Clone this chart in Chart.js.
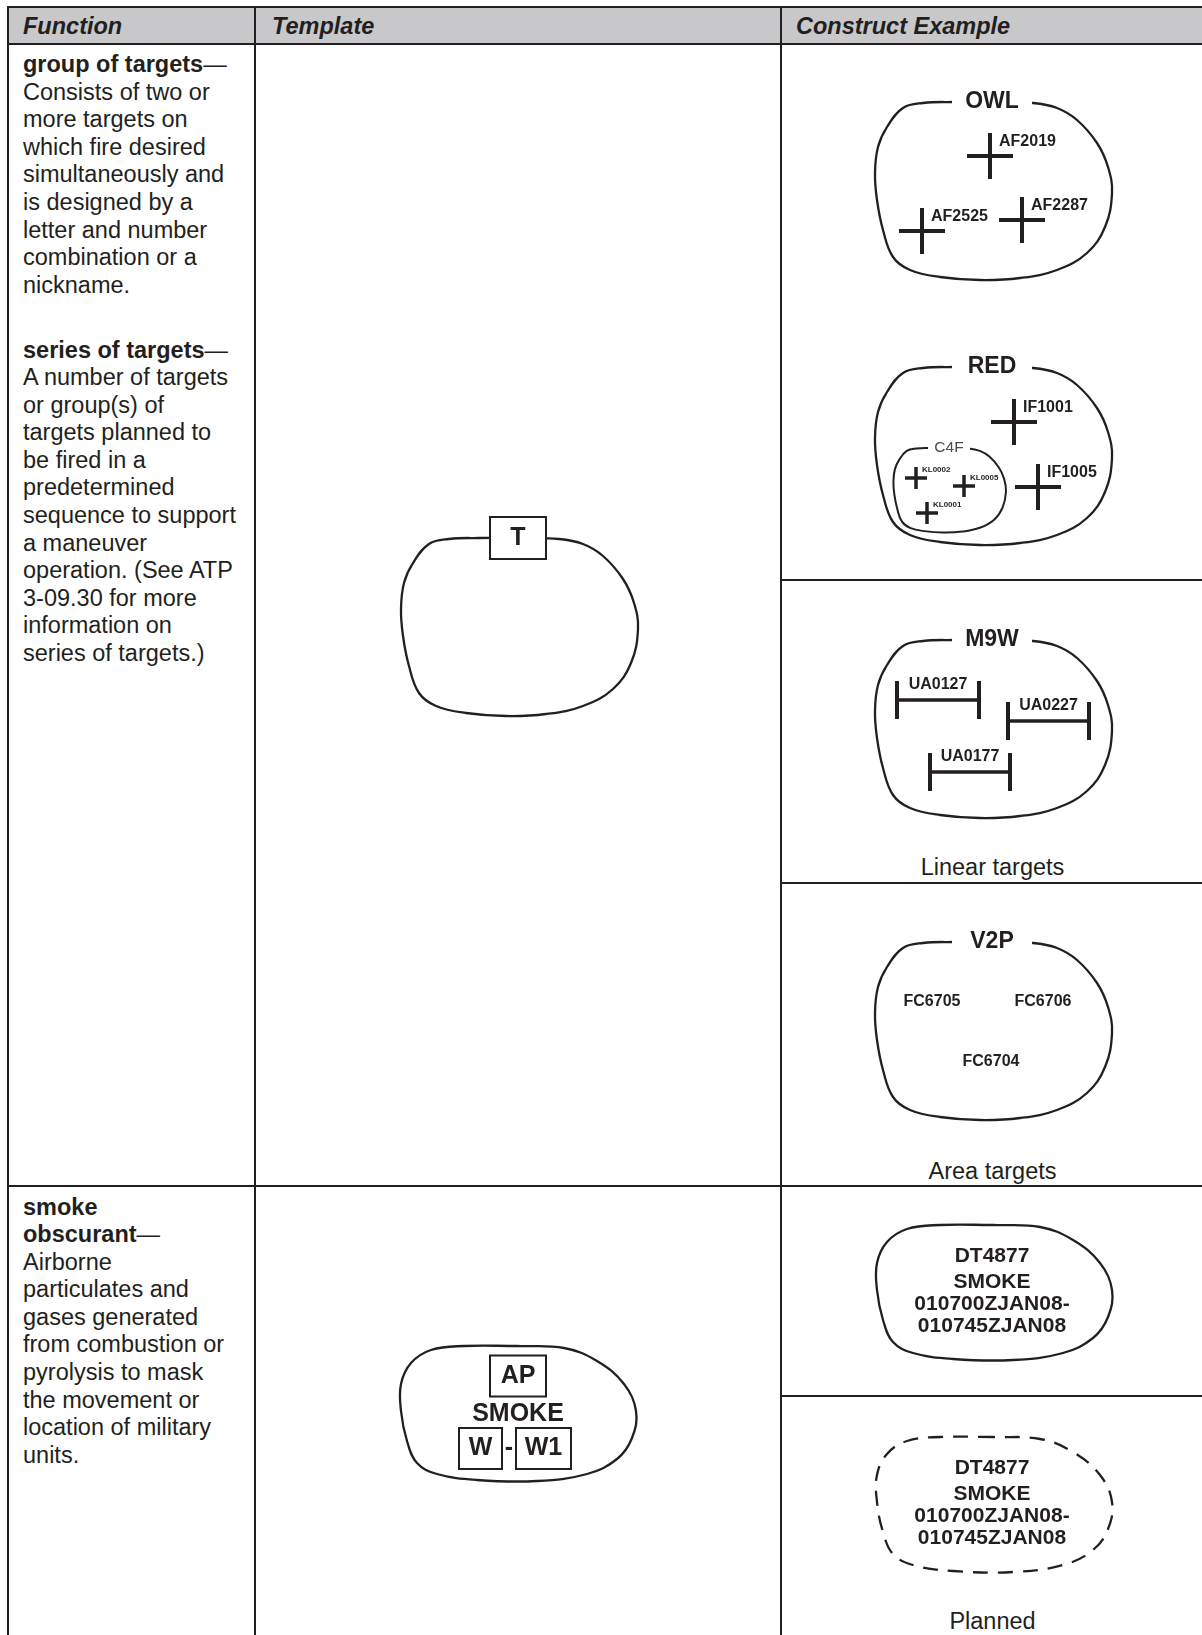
<!DOCTYPE html>
<html lang="en">
<head>
<meta charset="UTF-8">
<title>Group of targets, series of targets, smoke obscurant</title>
<script src="https://cdn.jsdelivr.net/npm/chart.js"></script>
<style>
  body {
    margin: 0;
    width: 1202px;
    height: 1635px;
    overflow: hidden;
    position: relative;
    background: #fff;
    color: #231f20;
    font-family: 'Liberation Sans', Arial, sans-serif;
  }
  .hl, .vl { position: absolute; background: #231f20; }
  .hl { height: 2px; }
  .vl { width: 2px; top: 6px; height: 1629px; }
  .head { position: absolute; left: 9px; top: 8px; width: 1193px; height: 35px; background: #c8c8ca; }
  .th { position: absolute; top: 8px; line-height: 36px; font-size: 23.5px; font-weight: bold; font-style: italic; }
  .txt { position: absolute; left: 23px; font-size: 23.5px; line-height: 27.6px; white-space: nowrap; }
  .cap { position: absolute; left: 781px; width: 423px; text-align: center; font-size: 23.5px; line-height: 27.6px; }
  #draw { position: absolute; left: 0; top: 0; z-index: 2; }
</style>
</head>
<body>
  <div class="head"></div>
  <div class="th" style="left:23px">Function</div>
  <div class="th" style="left:272px">Template</div>
  <div class="th" style="left:796px">Construct Example</div>

  <div class="hl" style="left:7px; width:1195px; top:6px"></div>
  <div class="hl" style="left:7px; width:1195px; top:43px"></div>
  <div class="hl" style="left:7px; width:1195px; top:1185px"></div>
  <div class="hl" style="left:780px; width:422px; top:579px"></div>
  <div class="hl" style="left:780px; width:422px; top:882px"></div>
  <div class="hl" style="left:780px; width:422px; top:1395px"></div>
  <div class="vl" style="left:7px"></div>
  <div class="vl" style="left:254px"></div>
  <div class="vl" style="left:780px"></div>

  <div class="txt" style="top:51px"><b>group of targets</b>—<br>Consists of two or<br>more targets on<br>which fire desired<br>simultaneously and<br>is designed by a<br>letter and number<br>combination or a<br>nickname.</div>
  <div class="txt" style="top:336.5px"><b>series of targets</b>—<br>A number of targets<br>or group(s) of<br>targets planned to<br>be fired in a<br>predetermined<br>sequence to support<br>a maneuver<br>operation. (See ATP<br>3-09.30 for more<br>information on<br>series of targets.)</div>
  <div class="txt" style="top:1193.5px"><b>smoke</b><br><b>obscurant</b>—<br>Airborne<br>particulates and<br>gases generated<br>from combustion or<br>pyrolysis to mask<br>the movement or<br>location of military<br>units.</div>

  <div class="cap" style="top:854px">Linear targets</div>
  <div class="cap" style="top:1158px">Area targets</div>
  <div class="cap" style="top:1608px">Planned</div>

  <canvas id="draw" width="1202" height="1635" style="width:1202px;height:1635px"></canvas>

<script>
  const ink = '#231f20';

  // group outline, as offsets from the spot on the top edge where the name sits
  const groupOutlineX = [0, -39, -69, -89, -105, -114, -117, -115, -109, -99, -82, -52, -12, 28, 65, 95, 113, 120, 116, 105, 85, 65, 41, 0];
  const groupOutlineY = [0, 0, 1, 6, 25, 45, 71, 98, 128, 155, 168, 175, 178, 176, 168, 151, 125, 91, 65, 41, 18, 6, 1, 0];
  // smoke outline, offsets from the middle of its top edge
  const smokeOutlineX = [0, -53, -86, -106, -116, -116, -110, -100, -80, -40, 20, 70, 100, 115, 119, 107, 80, 47, 0];
  const smokeOutlineY = [0, 0, 4, 17, 38, 65, 95, 117, 128, 134, 135, 128, 113, 92, 65, 38, 15, 2, 0];

  const groupNames = ['OWL', 'RED', 'M9W', 'V2P'];
  const groupX = [992, 992, 992, 992];
  const groupY = [102, 367, 640, 942];

  const subGroupNames = ['C4F'];
  const subGroupX = [949];
  const subGroupY = [448];

  const pointTargets = ['AF2019', 'AF2525', 'AF2287', 'IF1001', 'IF1005'];
  const pointTargetX = [990, 922, 1022, 1014, 1038];
  const pointTargetY = [156, 231, 220, 422, 487];

  const subTargets = ['KL0002', 'KL0005', 'KL0001'];
  const subTargetX = [916, 964, 927];
  const subTargetY = [478, 486, 513];

  const linearTargets = ['UA0127', 'UA0227', 'UA0177'];
  const linearStartX = [897, 1008, 930];
  const linearEndX = [979, 1089, 1010];
  const linearY = [700, 721, 772];

  const areaTargets = ['FC6705', 'FC6706', 'FC6704'];
  const areaX = [932, 1043, 991];
  const areaY = [1002, 1002, 1062];

  const templateTexts = ['T', 'AP', 'SMOKE', 'W', '-', 'W1'];
  const templateTextX = [518, 518, 518, 480.5, 509, 543.5];
  const templateTextY = [538, 1376, 1414, 1448.5, 1448.5, 1448.5];

  const smokeLines = ['DT4877', 'SMOKE', '010700ZJAN08-', '010745ZJAN08'];
  const smokeLineY = [31, 57, 79, 101];   // below the top of the outline
  const smokeExampleX = [993, 993];       // current, planned
  const smokeExampleY = [1225, 1437];

  const templateGroupX = 518, templateGroupY = 538;
  const templateSmokeX = 517, templateSmokeY = 1346;

  const boxSizes = { T: [56, 42], AP: [56, 41], W: [43, 41], W1: [55, 41] };

  function outline(xs, ys, ax, ay, s) {
    return xs.map((dx, i) => ({ x: ax + dx * s, y: ay + ys[i] * s }));
  }
  function points(xs, ys) {
    return xs.map((x, i) => ({ x: x, y: ys[i] }));
  }

  const lineStyle = { showLine: true, tension: 0.4, borderColor: ink, borderWidth: 2.3, pointRadius: 0, fill: false };
  const datasets = [];

  groupNames.forEach((name, i) => {
    datasets.push(Object.assign({
      data: outline(groupOutlineX, groupOutlineY, groupX[i], groupY[i], 1),
      text: [name],
      textStyle: { font: 'bold 23px "Liberation Sans", Arial', gap: 40 }
    }, lineStyle));
  });
  subGroupNames.forEach((name, i) => {
    datasets.push(Object.assign({
      data: outline(groupOutlineX, groupOutlineY, subGroupX[i], subGroupY[i], 0.475),
      text: [name],
      textStyle: { font: '15.5px "Liberation Sans", Arial', color: '#4a4a4a', gap: 21 }
    }, lineStyle, { borderWidth: 2 }));
  });

  datasets.push(Object.assign({ data: outline(groupOutlineX, groupOutlineY, templateGroupX, templateGroupY, 1) }, lineStyle));
  datasets.push(Object.assign({ data: outline(smokeOutlineX, smokeOutlineY, templateSmokeX, templateSmokeY, 1) }, lineStyle));
  datasets.push(Object.assign({ data: outline(smokeOutlineX, smokeOutlineY, smokeExampleX[0], smokeExampleY[0], 1) }, lineStyle));
  datasets.push(Object.assign({ data: outline(smokeOutlineX, smokeOutlineY, smokeExampleX[1], smokeExampleY[1], 1) }, lineStyle, { borderDash: [15, 10] }));

  datasets.push({
    data: points(pointTargetX, pointTargetY),
    pointStyle: 'cross', pointRadius: 23, pointBorderWidth: 4, pointBorderColor: ink,
    text: pointTargets,
    textStyle: { font: 'bold 16px "Liberation Sans", Arial', align: 'left', dx: 9, dy: -14 }
  });
  datasets.push({
    data: points(subTargetX, subTargetY),
    pointStyle: 'cross', pointRadius: 11, pointBorderWidth: 3.5, pointBorderColor: ink,
    text: subTargets,
    textStyle: { font: 'bold 8px "Liberation Sans", Arial', align: 'left', dx: 6, dy: -8 }
  });

  linearTargets.forEach((name, i) => {
    datasets.push({
      data: [{ x: linearStartX[i], y: linearY[i] }, { x: linearEndX[i], y: linearY[i] }],
      showLine: true, borderColor: ink, borderWidth: 3.5,
      pointStyle: 'line', pointRotation: 90, pointRadius: 19, pointBorderWidth: 4, pointBorderColor: ink
    });
  });
  datasets.push({
    data: linearTargets.map((n, i) => ({ x: (linearStartX[i] + linearEndX[i]) / 2, y: linearY[i] })),
    pointRadius: 0,
    text: linearTargets,
    textStyle: { font: 'bold 16px "Liberation Sans", Arial', dy: -15 }
  });

  datasets.push({
    data: points(areaX, areaY), pointRadius: 0,
    text: areaTargets,
    textStyle: { font: 'bold 16px "Liberation Sans", Arial' }
  });

  datasets.push({
    data: points(templateTextX, templateTextY), pointRadius: 0,
    text: templateTexts,
    textStyle: { font: 'bold 25px "Liberation Sans", Arial', boxes: boxSizes }
  });

  smokeExampleX.forEach((sx, k) => {
    datasets.push({
      data: smokeLineY.map(dy => ({ x: sx - 1, y: smokeExampleY[k] + dy })), pointRadius: 0,
      text: smokeLines,
      textStyle: { font: 'bold 21px "Liberation Sans", Arial' }
    });
  });

  const symbolText = {
    id: 'symbolText',
    afterDatasetsDraw(chart) {
      const ctx = chart.ctx;
      chart.data.datasets.forEach((ds, di) => {
        if (!ds.text) return;
        const st = ds.textStyle;
        chart.getDatasetMeta(di).data.forEach((pt, i) => {
          const t = ds.text[i];
          if (!t) return;
          const x = pt.x + (st.dx || 0);
          const y = pt.y + (st.dy || 0);
          ctx.save();
          if (st.gap) {
            ctx.fillStyle = '#fff';
            ctx.fillRect(x - st.gap, y - 7, st.gap * 2, 14);
          }
          const box = st.boxes && st.boxes[t];
          if (box) {
            ctx.fillStyle = '#fff';
            ctx.strokeStyle = ink;
            ctx.lineWidth = 2;
            ctx.fillRect(x - box[0] / 2, y - box[1] / 2, box[0], box[1]);
            ctx.strokeRect(x - box[0] / 2, y - box[1] / 2, box[0], box[1]);
          }
          ctx.font = st.font;
          ctx.textAlign = st.align || 'center';
          ctx.textBaseline = 'middle';
          ctx.fillStyle = st.color || ink;
          ctx.fillText(t, x, y);
          ctx.restore();
        });
      });
    }
  };

  new Chart(document.getElementById('draw'), {
    type: 'scatter',
    data: { datasets: datasets },
    options: {
      responsive: false,
      devicePixelRatio: 1,
      animation: false,
      events: [],
      layout: { padding: 0, autoPadding: false },
      scales: {
        x: { type: 'linear', min: 0, max: 1202, display: false },
        y: { type: 'linear', min: 0, max: 1635, reverse: true, display: false }
      },
      plugins: { legend: { display: false }, tooltip: { enabled: false } }
    },
    plugins: [symbolText]
  });
</script>
</body>
</html>
